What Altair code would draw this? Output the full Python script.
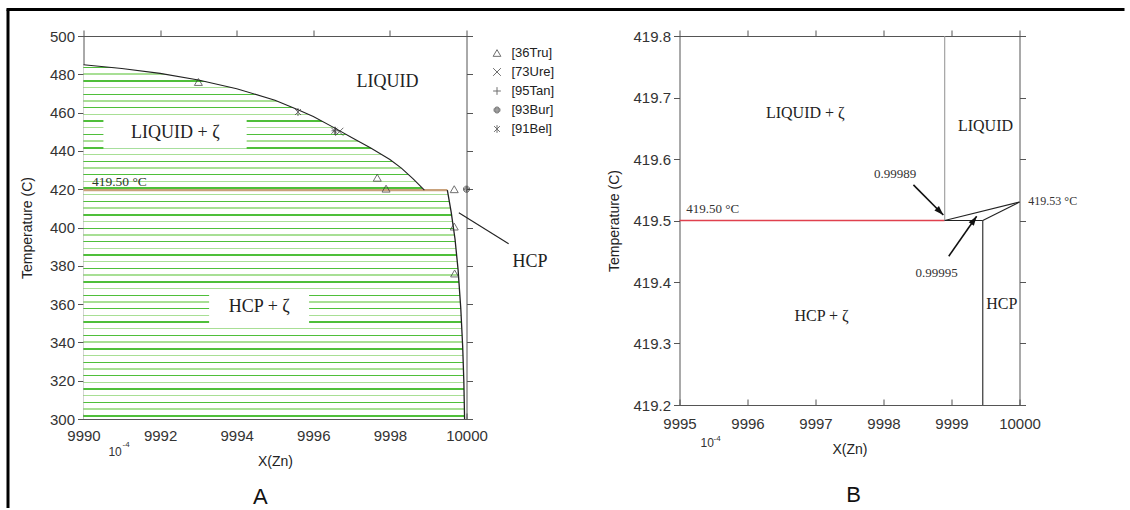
import math
import altair as alt
import pandas as pd

# ---------------- Panel A data (X(Zn) in units of 1e-4, temperature in C) ----------------
liq_x = [9990, 9991, 9992, 9993, 9994, 9995, 9995.6, 9996, 9996.6, 9997, 9997.5, 9998, 9998.3, 9998.6, 9998.9]
liq_t = [485, 483, 480.5, 477, 472.5, 466.5, 461.5, 458, 451.5, 447, 441.5, 435.5, 431, 425.5, 419.5]
sol_x = [9999.5, 9999.6, 9999.7, 9999.78, 9999.85, 9999.9, 9999.93, 9999.95]
sol_t = [419.5, 408, 394, 378, 358, 338, 320, 300]
eut_t = 419.5
eut_x = [9990, 9999.5]

pt_src = ["[36Tru]"] * 6 + ["[73Ure]", "[95Tan]", "[93Bur]", "[91Bel]", "[91Bel]"]
pt_x = [9993.0, 9997.67, 9997.9, 9999.68, 9999.68, 9999.69, 9996.68, 9996.58, 10000.0, 9995.6, 9996.55]
pt_t = [476, 426, 420.3, 420, 400.5, 376, 450, 450.5, 420, 460.3, 450.5]
legend_src = ["[36Tru]", "[73Ure]", "[95Tan]", "[93Bur]", "[91Bel]"]

a_lab = ["LIQUID", "LIQUID + \u03b6", "HCP + \u03b6", "HCP"]
a_lab_x = [9997.94, 9992.40, 9994.59, 10001.66]
a_lab_t = [476, 449.3, 358.5, 382]
a_box_x0 = [9990.52, 9993.28]
a_box_x1 = [9994.26, 9995.89]
a_box_t0 = [441.2, 349.8]
a_box_t1 = [457.7, 367.2]
a_small = ["419.50 \u00b0C"]
a_small_x = [9990.22]
a_small_t = [423.8]
a_lead = {"x0": [9999.8], "t0": [407.7], "x1": [10001.1], "t1": [391.5]}
a_exp = {"x": [9990.65], "t": [283.0], "xs": [9991.02], "ts": [286.5]}
a_panel = {"s": ["A"], "x": [9994.62], "t": [259.3]}

# ---------------- Panel B data ----------------
b_red = {"x0": [9995], "x1": [9998.9], "t": [419.5]}
b_seg_x0 = [9998.9, 9999.46, 9998.9, 9999.46]
b_seg_t0 = [419.5, 419.2, 419.5, 419.5]
b_seg_x1 = [9999.46, 9999.46, 10000, 10000]
b_seg_t1 = [419.5, 419.5, 419.53, 419.53]
b_gray = {"x0": [9998.9], "t0": [419.5], "x1": [9998.9], "t1": [419.8]}
b_arr_x0 = [9998.44, 9998.96]
b_arr_t0 = [419.558, 419.442]
b_arr_x1 = [9998.88, 9999.37]
b_arr_t1 = [419.509, 419.507]
b_lab = ["LIQUID + \u03b6", "LIQUID", "HCP + \u03b6", "HCP"]
b_lab_x = [9996.85, 9999.5, 9997.09, 9999.74]
b_lab_t = [419.675, 419.653, 419.344, 419.364]
b_num = ["0.99989", "0.99995"]
b_num_x = [9998.17, 9998.78]
b_num_t = [419.576, 419.415]
b_small = ["419.50 \u00b0C", "419.53 \u00b0C"]
b_small_x = [9995.1, 10000.13]
b_small_t = [419.518, 419.531]
b_small_size = [13, 12]
b_exp = {"x": [9995.31], "t": [419.138], "xs": [9995.50], "ts": [419.145]}
b_panel = {"s": ["B"], "x": [9997.56], "t": [419.054]}

# ---------------- layout / style ----------------
W_A, H_A = 383, 383
W_B, H_B = 340, 369
GAP = 213
SERIF = "Liberation Serif"
SANS = "Liberation Sans"
INK = "#222"


def stripes(h_px, period=6.7, lw=1.4, c1="#4fbf3a", c2="#a8df95"):
    stops = [alt.GradientStop(offset=0, color="#ffffff")]
    y, k = 2.0, 0
    while y + lw < h_px:
        c = c1 if k % 2 == 0 else c2
        a, b = round(y / h_px, 5), round((y + lw) / h_px, 5)
        stops += [alt.GradientStop(offset=a, color="#ffffff"), alt.GradientStop(offset=a, color=c),
                  alt.GradientStop(offset=b, color=c), alt.GradientStop(offset=b, color="#ffffff")]
        y += period
        k += 1
    stops.append(alt.GradientStop(offset=1, color="#ffffff"))
    return alt.Gradient(gradient="linear", stops=stops, x1=0, x2=0, y1=0, y2=1)


def axis_layers(xdom, ydom, xvals, yvals, yfmt, lab_pad_x, ttl_pad_x, ttl_pad_y):
    corners = pd.DataFrame({"x": xdom, "t": ydom})
    xs = alt.Scale(domain=xdom, nice=False, zero=False)
    ys = alt.Scale(domain=ydom, nice=False, zero=False)
    base = alt.Chart(corners).mark_point(opacity=0)
    main = base.encode(
        x=alt.X("x:Q", scale=xs, axis=alt.Axis(orient="bottom", values=xvals, format="d", ticks=False,
                                               tickSize=0, labelPadding=lab_pad_x, title="X(Zn)",
                                               titlePadding=ttl_pad_x, labelFlush=False)),
        y=alt.Y("t:Q", scale=ys, axis=alt.Axis(orient="left", values=yvals, format=yfmt, tickSize=6,
                                               labelPadding=3, title="Temperature (C)",
                                               titlePadding=ttl_pad_y, labelFlush=False)),
    )
    extra = base.encode(
        x=alt.X("x:Q", scale=xs, axis=alt.Axis(orient="bottom", values=xvals, offset=-6, tickSize=6,
                                               labels=False, domain=False, title=None)),
        y=alt.Y("t:Q", scale=ys, axis=alt.Axis(orient="right", values=yvals, tickSize=6,
                                               labels=False, title=None)),
    )
    top = base.encode(
        x=alt.X("x:Q", scale=xs, axis=alt.Axis(orient="top", values=xvals, tickSize=6,
                                               labels=False, title=None)),
        y=alt.Y("t:Q", scale=ys, axis=None),
    )
    return xs, ys, [main, extra, top]


def X(field, s):
    return alt.X(field, scale=s, axis=None)


def Y(field, s):
    return alt.Y(field, scale=s, axis=None)


# ================= Panel A =================
xsA, ysA, axA = axis_layers([9990, 10000], [300, 500], list(range(9990, 10001, 2)),
                            list(range(300, 501, 20)), "d", 9.5, 10.5, 15)

# two-phase region boundary as a function of x: liquidus, then the 419.5 line, then the HCP solvus
hatch_df = pd.DataFrame({"x": liq_x + sol_x, "t": liq_t + sol_t})
h_px = (max(liq_t) - min(sol_t)) * H_A / 200.0

hatch = alt.Chart(hatch_df).mark_area(color=stripes(h_px), line=False).encode(
    x=X("x:Q", xsA), y=alt.Y("t:Q", scale=ysA, axis=None, stack=None), y2=alt.value(H_A))

boxes = alt.Chart(pd.DataFrame({"x0": a_box_x0, "x1": a_box_x1, "t0": a_box_t0, "t1": a_box_t1})).mark_rect(
    color="white").encode(x=X("x0:Q", xsA), x2="x1:Q", y=Y("t0:Q", ysA), y2="t1:Q")

eut = alt.Chart(pd.DataFrame({"x0": [eut_x[0]], "x1": [eut_x[1]], "t": [eut_t]})).mark_rule(
    color="#c9a27c", strokeWidth=2.2).encode(x=X("x0:Q", xsA), x2="x1:Q", y=Y("t:Q", ysA))

liq = alt.Chart(pd.DataFrame({"x": liq_x, "t": liq_t})).mark_line(color=INK, strokeWidth=1.1).encode(
    x=X("x:Q", xsA), y=Y("t:Q", ysA))
sol = alt.Chart(pd.DataFrame({"x": sol_x, "t": sol_t})).mark_line(color=INK, strokeWidth=1.3).encode(
    x=X("x:Q", xsA), y=Y("t:Q", ysA))

lead = alt.Chart(pd.DataFrame(a_lead)).mark_rule(color=INK, strokeWidth=1.1).encode(
    x=X("x0:Q", xsA), y=Y("t0:Q", ysA), x2="x1:Q", y2="t1:Q")

P_X = "M-1,-1L1,1M-1,1L1,-1"
P_PLUS = "M-1,0L1,0M0,-1L0,1"


def octagon(r):
    a = r * 0.414
    return (f"M{-a},{-r}L{a},{-r}L{r},{-a}L{r},{a}L{a},{r}L{-a},{r}L{-r},{a}L{-r},{-a}Z")


P_DOT = octagon(0.75) + octagon(0.52) + octagon(0.3) + "M-0.12,0L0.12,0M0,-0.12L0,0.12"
P_AST = "M-0.75,-0.75L0.75,0.75M-0.75,0.75L0.75,-0.75M0,-1L0,1"
shape_range = ["triangle-up", P_X, P_PLUS, P_DOT, P_AST]

pts = alt.Chart(pd.DataFrame({"src": pt_src, "x": pt_x, "t": pt_t})).mark_point(
    filled=False, size=64, color="#333", strokeWidth=1).encode(
    x=X("x:Q", xsA), y=Y("t:Q", ysA),
    shape=alt.Shape("src:N", scale=alt.Scale(domain=legend_src, range=shape_range),
                    legend=alt.Legend(title=None, orient="none", legendX=407, legendY=11, padding=0,
                                      labelFont=SANS, labelFontSize=13, labelColor="#222",
                                      symbolSize=60, symbolStrokeWidth=1, symbolStrokeColor="#333",
                                      rowPadding=6, clipHeight=12, labelOffset=8)))

a_text = alt.Chart(pd.DataFrame({"s": a_lab, "x": a_lab_x, "t": a_lab_t})).mark_text(
    font=SERIF, fontSize=18, color=INK).encode(x=X("x:Q", xsA), y=Y("t:Q", ysA), text="s:N")
a_stext = alt.Chart(pd.DataFrame({"s": a_small, "x": a_small_x, "t": a_small_t})).mark_text(
    font=SERIF, fontSize=13.5, color="#2a3a2a", align="left").encode(
    x=X("x:Q", xsA), y=Y("t:Q", ysA), text="s:N")
a_e1 = alt.Chart(pd.DataFrame(a_exp)).mark_text(text="10", font=SANS, fontSize=12, color="#333",
                                                align="left").encode(x=X("x:Q", xsA), y=Y("t:Q", ysA))
a_e2 = alt.Chart(pd.DataFrame(a_exp)).mark_text(text="-4", font=SANS, fontSize=8, color="#333",
                                                align="left").encode(x=X("xs:Q", xsA), y=Y("ts:Q", ysA))
a_pan = alt.Chart(pd.DataFrame(a_panel)).mark_text(font=SANS, fontSize=22, color="#111").encode(
    x=X("x:Q", xsA), y=Y("t:Q", ysA), text="s:N")

one = pd.DataFrame({"k": [0]})
frame_left = alt.Chart(one).mark_rule(color="black", strokeWidth=3).encode(
    x=alt.value(-75.5), y=alt.value(-26.5), y2=alt.value(472))
frame_top = alt.Chart(one).mark_rule(color="black", strokeWidth=3).encode(
    x=alt.value(-77), x2=alt.value(1041), y=alt.value(-26.5))

chartA = alt.layer(hatch, boxes, eut, liq, sol, lead, pts, a_text, a_stext, a_e1, a_e2, a_pan,
                   frame_left, frame_top, *axA).resolve_scale(x="shared", y="shared").resolve_axis(
    x="independent", y="independent").properties(width=W_A, height=H_A)

# ================= Panel B =================
xsB, ysB, axB = axis_layers([9995, 10000], [419.2, 419.8], list(range(9995, 10001)),
                            [419.2, 419.3, 419.4, 419.5, 419.6, 419.7, 419.8], ".1f", 11.5, 10.5, 11)

red = alt.Chart(pd.DataFrame(b_red)).mark_rule(color="#e0404e", strokeWidth=1.3).encode(
    x=X("x0:Q", xsB), x2="x1:Q", y=Y("t:Q", ysB))
gray = alt.Chart(pd.DataFrame(b_gray)).mark_rule(color="#9a9a9a", strokeWidth=1.1).encode(
    x=X("x0:Q", xsB), y=Y("t0:Q", ysB), x2="x1:Q", y2="t1:Q")
segs = alt.Chart(pd.DataFrame({"x0": b_seg_x0, "t0": b_seg_t0, "x1": b_seg_x1, "t1": b_seg_t1})).mark_rule(
    color=INK, strokeWidth=1.1).encode(x=X("x0:Q", xsB), y=Y("t0:Q", ysB), x2="x1:Q", y2="t1:Q")

px_x = W_B / 5.0
px_t = H_B / 0.6
arr_df = pd.DataFrame({"x0": b_arr_x0, "t0": b_arr_t0, "x1": b_arr_x1, "t1": b_arr_t1})
arr_df["ang"] = [
    (math.degrees(math.atan2((x1 - x0) * px_x, (t1 - t0) * px_t)) + 360) % 360
    for x0, t0, x1, t1 in zip(b_arr_x0, b_arr_t0, b_arr_x1, b_arr_t1)
]
arr_lines = alt.Chart(arr_df).mark_rule(color="#111", strokeWidth=1.6).encode(
    x=X("x0:Q", xsB), y=Y("t0:Q", ysB), x2="x1:Q", y2="t1:Q")
arr_heads = alt.Chart(arr_df).mark_point(shape="M0,0L-0.6,1.8L0.6,1.8Z", filled=True, size=110,
                                         color="#111", opacity=1).encode(
    x=X("x1:Q", xsB), y=Y("t1:Q", ysB), angle=alt.Angle("ang:Q", scale=None))

b_text = alt.Chart(pd.DataFrame({"s": b_lab, "x": b_lab_x, "t": b_lab_t})).mark_text(
    font=SERIF, fontSize=16, color=INK).encode(x=X("x:Q", xsB), y=Y("t:Q", ysB), text="s:N")
b_ntext = alt.Chart(pd.DataFrame({"s": b_num, "x": b_num_x, "t": b_num_t})).mark_text(
    font=SERIF, fontSize=13, color="#333").encode(x=X("x:Q", xsB), y=Y("t:Q", ysB), text="s:N")
b_stext = alt.Chart(pd.DataFrame({"s": b_small, "x": b_small_x, "t": b_small_t, "fs": b_small_size})).mark_text(
    font=SERIF, color="#333", align="left").encode(
    x=X("x:Q", xsB), y=Y("t:Q", ysB), text="s:N", size=alt.Size("fs:Q", scale=None, legend=None))
b_e1 = alt.Chart(pd.DataFrame(b_exp)).mark_text(text="10", font=SANS, fontSize=12, color="#333",
                                                align="left").encode(x=X("x:Q", xsB), y=Y("t:Q", ysB))
b_e2 = alt.Chart(pd.DataFrame(b_exp)).mark_text(text="-4", font=SANS, fontSize=8, color="#333",
                                                align="left").encode(x=X("xs:Q", xsB), y=Y("ts:Q", ysB))
b_pan = alt.Chart(pd.DataFrame(b_panel)).mark_text(font=SANS, fontSize=22, color="#111").encode(
    x=X("x:Q", xsB), y=Y("t:Q", ysB), text="s:N")

chartB = alt.layer(red, gray, segs, arr_lines, arr_heads, b_text, b_ntext, b_stext, b_e1, b_e2, b_pan,
                   *axB).resolve_scale(x="shared", y="shared").resolve_axis(
    x="independent", y="independent").properties(width=W_B, height=H_B)

chart = alt.hconcat(chartA, chartB, spacing=GAP, bounds="flush").properties(
    padding={"left": 4.5, "top": 8, "right": 0, "bottom": 0},
    background="white",
).configure_view(stroke=None).configure_axis(
    labelFont=SANS, labelFontSize=15, labelColor="#333", titleFont=SANS, titleFontSize=14,
    titleFontWeight="normal", titleColor="#222", domainColor="#555", tickColor="#555",
    domainWidth=1, tickWidth=1, grid=False)

chart.save("out.html", embed_options={"renderer": "svg", "actions": False})
